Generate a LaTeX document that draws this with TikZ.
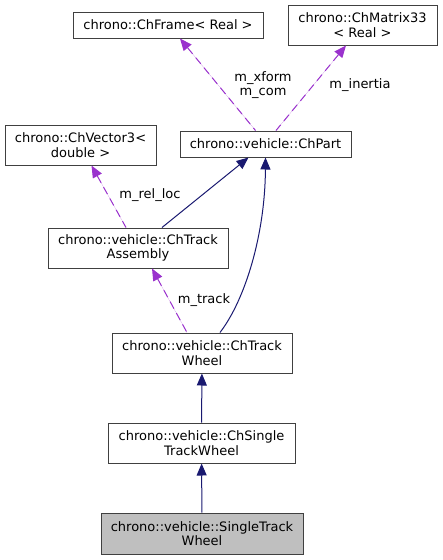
\documentclass[tikz,border=0pt]{standalone}
\usepackage{fontspec}
\setmainfont{DejaVu Sans}
\usepackage{tikz}
\usetikzlibrary{positioning,arrows.meta}
\definecolor{depcol}{HTML}{9A32CD}
\definecolor{inhcol}{HTML}{191970}

\begin{document}
\begin{tikzpicture}[
        x=1pt, y=-1pt,
        cls/.style={draw=black!75, fill=white, align=center, inner sep=0pt,
            line width=1pt, font=\fontsize{13}{14.5}\selectfont},
        cur/.style={cls, fill=black!25},
        inh/.style={draw=inhcol, line width=1pt, {Triangle[length=12pt,width=10pt]}-},
        dep/.style={draw=depcol, line width=1pt, dash pattern=on 8pt off 5pt,
            {Triangle[length=12pt,width=10pt]}-, fill=depcol},
        lbl/.style={align=center, inner sep=0pt, font=\fontsize{13}{14.5}\selectfont}
    ]
        \useasboundingbox (0,0) rectangle (443,560);

        % Classes
        \node[cls, minimum width=190pt, minimum height=26pt] (frame) at (168,25) {chrono::ChFrame< Real >};
        \node[cls, minimum width=149pt, minimum height=40pt] (matrix) at (362.5,25) {chrono::ChMatrix33\\< Real >};
        \node[cls, minimum width=151pt, minimum height=40pt] (vector) at (80.5,145) {chrono::ChVector3<\\double >};
        \node[cls, minimum width=171pt, minimum height=26pt] (part) at (265.5,144) {chrono::vehicle::ChPart};
        \node[cls, minimum width=180pt, minimum height=40pt] (assembly) at (138,248) {chrono::vehicle::ChTrack\\Assembly};
        \node[cls, minimum width=180pt, minimum height=40pt] (trackwheel) at (202,353) {chrono::vehicle::ChTrack\\Wheel};
        \node[cls, minimum width=187pt, minimum height=40pt] (chsingle) at (201.5,443) {chrono::vehicle::ChSingle\\TrackWheel};
        \node[cur, minimum width=202pt, minimum height=41pt] (single) at (202,533.5) {chrono::vehicle::SingleTrack\\Wheel};

        % Members
        \draw[dep] ([xshift=12pt]frame.south) -- ([xshift=-10pt]part.north);
        \node[lbl] (lxform) at (263,85) {m\_xform\\m\_com};
        \draw[dep] ([xshift=-16.5pt]matrix.south) -- ([xshift=10.5pt]part.north);
        \node[lbl] (linertia) at (360,85) {m\_inertia};
        \draw[dep] ([xshift=11pt]vector.south) -- ([xshift=-12pt]assembly.north);
        \node[lbl] (lrelloc) at (150,195) {m\_rel\_loc};
        \draw[dep] ([xshift=14pt]assembly.south) -- ([xshift=-15pt]trackwheel.north);
        \node[lbl] (ltrack) at (204,300) {m\_track};

        % Inheritance
        \draw[inh] ([xshift=-17pt]part.south) -- ([xshift=24pt]assembly.north);
        \draw[inh] (part.south) .. controls (265,235) and (245,300) .. ([xshift=18pt]trackwheel.north);
        \draw[inh] (trackwheel) -- (chsingle);
        \draw[inh] (chsingle) -- (single);
    \end{tikzpicture}
\end{document}
